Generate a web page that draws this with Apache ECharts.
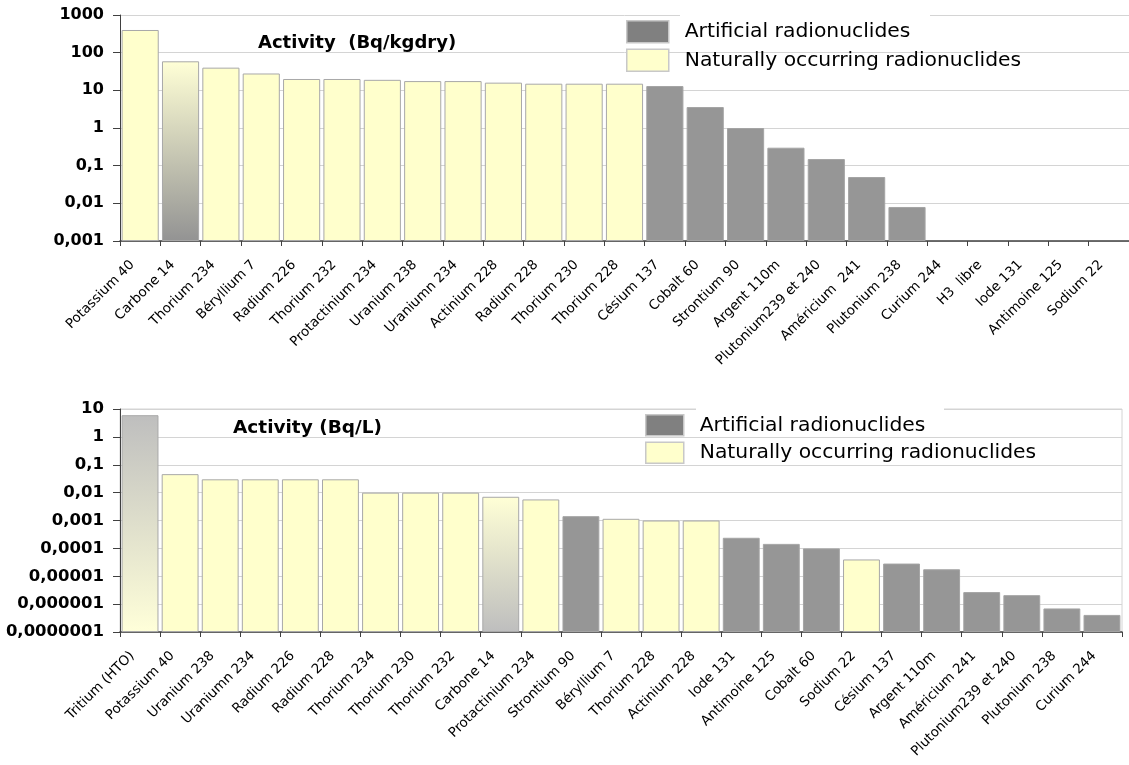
<!DOCTYPE html>
<html><head><meta charset="utf-8">
<script src="https://cdn.jsdelivr.net/npm/echarts@6/dist/echarts.min.js"></script>
<style>html,body{margin:0;padding:0;background:#fff}#c{width:1129px;height:765px}</style>
</head><body><div id="c"></div>
<script>
// ---------- DATA ----------
const soilCategories = ['Potassium 40','Carbone 14','Thorium 234','Béryllium 7','Radium 226','Thorium 232','Protactinium 234','Uranium 238','Uraniumn 234','Actinium 228','Radium 228','Thorium 230','Thorium 228','Césium 137','Cobalt 60','Strontium 90','Argent 110m','Plutonium239 et 240','Américium  241','Plutonium 238','Curium 244','H3  libre','Iode 131','Antimoine 125','Sodium 22'];
const soilValues = [400, 59, 40, 28, 20, 20, 19, 17.6, 17.6, 16, 15, 15, 15, 13, 3.6, 1, 0.3, 0.15, 0.05, 0.008, null, null, null, null, null];
const soilKinds = ['N','M','N','N','N','N','N','N','N','N','N','N','N','A','A','A','A','A','A','A','A','A','A','A','A'];
const soilTickLabels = ['0,001','0,01','0,1','1','10','100','1000'];

const waterCategories = ['Tritium (HTO)','Potassium 40','Uranium 238','Uraniumn 234','Radium 226','Radium 228','Thorium 234','Thorium 230','Thorium 232','Carbone 14','Protactinium 234','Strontium 90','Béryllium 7','Thorium 228','Actinium 228','Iode 131','Antimoine 125','Cobalt 60','Sodium 22','Césium 137','Argent 110m','Américium 241','Plutonium239 et 240','Plutonium 238','Curium 244'];
const waterValues = [6, 0.046, 0.03, 0.03, 0.03, 0.03, 0.01, 0.01, 0.01, 0.0071, 0.0057, 0.00143, 0.00115, 0.001, 0.001, 0.00024, 0.000145, 0.0001, 0.00004, 0.0000285, 0.0000178, 0.0000027, 0.0000021, 0.0000007, 0.00000041];
const waterKinds = ['M','N','N','N','N','N','N','N','N','M','N','A','N','N','N','A','A','A','N','A','A','A','A','A','A'];
const waterTickLabels = ['0,0000001','0,000001','0,00001','0,0001','0,001','0,01','0,1','1','10'];

const seriesNames = ['Artificial radionuclides', 'Naturally occurring radionuclides'];
const titles = ['Activity  (Bq/kgdry)', 'Activity (Bq/L)'];

// ---------- STYLE ----------
const YELLOW = '#FFFFCC';
const GRAY = '#969696';
function grad(top, bottom){
  return new echarts.graphic.LinearGradient(0,0,0,1,[{offset:0,color:top},{offset:1,color:bottom}]);
}
const mixedStyle = {
  soil: {'Carbone 14': grad('#FFFFD6', '#939393')},
  water: {'Tritium (HTO)': grad('#BEBEBE', '#FFFFD9'), 'Carbone 14': grad('#FFFFD6', '#BEBEBE')}
};

function buildSeries(cats, vals, kinds, key, idx){
  const nat = vals.map((v,k)=>{
    if (kinds[k]==='A' || v==null) return null;
    if (kinds[k]==='M') return {value:v, itemStyle:{color: mixedStyle[key][cats[k]], borderColor:'#A8A8A8'}};
    return v;
  });
  const art = vals.map((v,k)=> kinds[k]==='A' ? v : null);
  return [
    {name: seriesNames[0], type:'bar', xAxisIndex:idx, yAxisIndex:idx, data: art, barCategoryGap:'8%', barGap:'-100%',
     itemStyle:{color:GRAY, borderColor:'#A4A4A4', borderWidth:1}, animation:false},
    {name: seriesNames[1], type:'bar', xAxisIndex:idx, yAxisIndex:idx, data: nat, barCategoryGap:'8%', barGap:'-100%',
     itemStyle:{color:YELLOW, borderColor:'#A8A8A8', borderWidth:1}, animation:false}
  ];
}

const FONT = 'DejaVu Sans';
function xAxis(cats, idx){
  return {type:'category', gridIndex:idx, data:cats, boundaryGap:true,
    axisLine:{show:true, lineStyle:{color:'#404040', width:1.5}},
    axisTick:{show:true, interval:0, alignWithLabel:false, length:5, lineStyle:{color:'#404040'}},
    axisLabel:{interval:0, rotate:45, fontFamily:FONT, fontSize:13.5, color:'#000', margin:14, padding:[0,11,0,0]},
    splitLine:{show:false}};
}
function yAxis(min, max, labels, minExp, idx, fs){
  return {type:'log', logBase:10, gridIndex:idx, min:min, max:max, startValue:min,
    axisLine:{show:true, lineStyle:{color:'#404040', width:1}},
    axisTick:{show:true, inside:false, length:7, lineStyle:{color:'#404040'}},
    axisLabel:{fontFamily:FONT, fontWeight:'bold', fontSize:fs, color:'#000', margin:16,
      formatter: v => labels[Math.round(Math.log10(v)) - minExp]},
    splitLine:{show:true, lineStyle:{color:'#D4D4D4', width:1}},
    minorTick:{show:false}};
}
function legend(left, top, w, h){
  return {orient:'vertical', left:left, top:top, itemWidth:w, itemHeight:h, itemGap:5, padding:0, icon:'rect', z:5,
     textStyle:{fontFamily:FONT, fontSize:20.3, color:'#000', padding:[0,0,0,11]},
     data:[{name:seriesNames[0], itemStyle:{color:'#808080', borderColor:'#C8C8C8', borderWidth:1.5}},
           {name:seriesNames[1], itemStyle:{color:YELLOW, borderColor:'#C8C8C8', borderWidth:1.5}}]};
}

const chart = echarts.init(document.getElementById('c'), null, {renderer:'canvas'});
chart.setOption({
  backgroundColor:'#fff',
  animation:false,
  title:[
    {text:titles[0], left:253, top:29, textStyle:{fontFamily:FONT, fontWeight:'bold', fontSize:18, color:'#000'}},
    {text:titles[1], left:228, top:414, textStyle:{fontFamily:FONT, fontWeight:'bold', fontSize:18.5, color:'#000'}}
  ],
  legend:[legend(626, 20, 42, 22), legend(645, 414, 38, 21)],
  graphic:[
    {type:'rect', shape:{x:680, y:10, width:250, height:10}, style:{fill:'#fff'}, z:3, silent:true},
    {type:'rect', shape:{x:696, y:404, width:248, height:10}, style:{fill:'#fff'}, z:3, silent:true}
  ],
  grid:[
    {left:120, top:15, width:1009, height:226},
    {left:120, top:409, width:1002, height:223, show:true, borderColor:'#D4D4D4', borderWidth:1}
  ],
  xAxis:[xAxis(soilCategories,0), xAxis(waterCategories,1)],
  yAxis:[yAxis(0.001, 1000, soilTickLabels, -3, 0, 16), yAxis(1e-7, 10, waterTickLabels, -7, 1, 16.5)],
  series:[...buildSeries(soilCategories, soilValues, soilKinds, 'soil', 0),
          ...buildSeries(waterCategories, waterValues, waterKinds, 'water', 1)]
});
</script></body></html>
